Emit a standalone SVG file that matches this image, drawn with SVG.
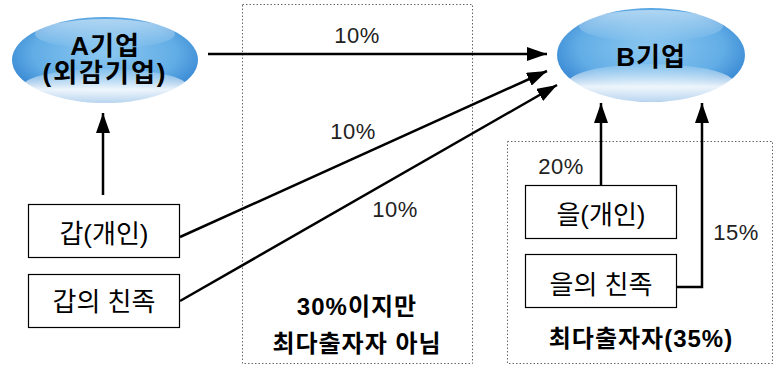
<svg xmlns="http://www.w3.org/2000/svg" width="777" height="367" viewBox="0 0 777 367">
<defs>
<radialGradient id="gl" cx="0.5" cy="0.42" r="0.55">
<stop offset="0" stop-color="#8cc8f0"/>
<stop offset="0.7" stop-color="#62ade6"/>
<stop offset="1" stop-color="#3a8ad4"/>
</radialGradient>
<linearGradient id="hl" x1="0" y1="0" x2="0" y2="1">
<stop offset="0" stop-color="#ffffff" stop-opacity="0.1"/>
<stop offset="0.6" stop-color="#ffffff" stop-opacity="0.9"/>
<stop offset="1" stop-color="#ffffff" stop-opacity="0.65"/>
</linearGradient>
<linearGradient id="top" x1="0" y1="0" x2="0" y2="1">
<stop offset="0" stop-color="#ffffff" stop-opacity="0.5"/>
<stop offset="1" stop-color="#ffffff" stop-opacity="0"/>
</linearGradient>
<marker id="ah2" viewBox="0 0 20 14" refX="20" refY="7" markerWidth="20" markerHeight="14" markerUnits="userSpaceOnUse" orient="auto">
<path d="M0,0 L20,7 L0,14 Z" fill="#000"/>
</marker>
</defs>
<style>
text{font-family:"Liberation Sans","Noto Sans CJK KR",sans-serif;fill:#000;}
.nt{font-size:26px;text-anchor:middle;}
.et{font-size:26px;font-weight:bold;text-anchor:middle;}
.bt{font-size:24px;font-weight:bold;text-anchor:middle;letter-spacing:1px;}
.lb{font-size:22px;fill:#222;text-anchor:middle;letter-spacing:0.5px;}
.box{fill:#fff;stroke:#000;stroke-width:1.2;}
.dot{fill:none;stroke:#666;stroke-width:1;stroke-dasharray:1.5,2;}
.ln{fill:none;stroke:#000;stroke-width:2.5;marker-end:url(#ah2);}
</style>
<rect class="dot" x="242.5" y="4.5" width="230" height="359"/>
<rect class="dot" x="507.5" y="141.5" width="265" height="222"/>
<g id="nodeA">
<ellipse cx="105" cy="60" rx="93" ry="43" fill="url(#gl)"/>
<ellipse cx="105" cy="86" rx="82" ry="17" fill="url(#hl)"/>
<ellipse cx="105" cy="34" rx="70" ry="15" fill="url(#top)"/>
<text class="et" x="105" y="55" style="letter-spacing:1px">A기업</text>
<text class="et" x="105" y="82" style="letter-spacing:2px">(외감기업)</text>
</g>
<g id="nodeB">
<ellipse cx="651" cy="55" rx="94" ry="47" fill="url(#gl)"/>
<ellipse cx="651" cy="83" rx="83" ry="19" fill="url(#hl)"/>
<ellipse cx="651" cy="26" rx="72" ry="16" fill="url(#top)"/>
<text class="et" x="651" y="66" style="letter-spacing:1px">B기업</text>
</g>
<g id="nodeGap">
<rect class="box" x="28.5" y="204.5" width="151" height="53"/>
<text class="nt" x="104" y="243">갑(개인)</text>
</g>
<g id="nodeGapFamily">
<rect class="box" x="28.5" y="274.5" width="151" height="53"/>
<text class="nt" x="104" y="311">갑의 친족</text>
</g>
<g id="nodeEul">
<rect class="box" x="525.5" y="185.5" width="151" height="53"/>
<text class="nt" x="601" y="224">을(개인)</text>
</g>
<g id="nodeEulFamily">
<rect class="box" x="525.5" y="254.5" width="151" height="53"/>
<text class="nt" x="601" y="294">을의 친족</text>
</g>
<g id="connectors">
<line class="ln" x1="208" y1="54" x2="547" y2="54"/>
<line class="ln" x1="180" y1="237" x2="547" y2="71"/>
<line class="ln" x1="180" y1="301" x2="557" y2="85"/>
<line class="ln" x1="103" y1="195" x2="103" y2="113"/>
<line class="ln" x1="601" y1="185" x2="601" y2="103"/>
<polyline class="ln" points="676,287 702,287 702,103"/>
</g>
<g id="labels">
<text class="lb" x="357" y="43">10%</text>
<text class="lb" x="353" y="139">10%</text>
<text class="lb" x="395" y="217">10%</text>
<text class="lb" x="561" y="174">20%</text>
<text class="lb" x="736" y="240">15%</text>
<text class="bt" x="357" y="315">30%이지만</text>
<text class="bt" x="357" y="352">최다출자자 아님</text>
<text class="bt" x="641" y="347">최다출자자(35%)</text>
</g>
</svg>
